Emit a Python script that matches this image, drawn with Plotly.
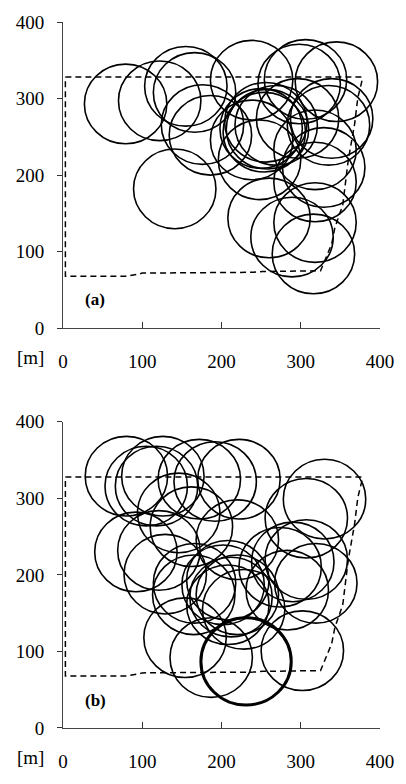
import plotly.graph_objects as go

# ---- data ----
tick_vals = [0, 100, 200, 300, 400]
tick_text = ["0", "100", "200", "300", "400"]

# boundary of the area (dashed)
bound_x = [3, 377, 377, 372, 368, 360, 353, 343, 339, 325, 252, 240, 100, 95, 79, 3, 3]
bound_y = [328, 328, 322, 301, 267, 220, 161, 131, 110, 75, 74, 73, 72, 70.5, 68, 68, 328]

radius = 52

# panel (a) circle centres
a_x = [79, 122, 155, 166, 176, 186, 141, 238, 306, 298, 345, 250, 254, 258, 238, 248,
       296, 339, 335, 318, 329, 318, 260, 289, 318, 316, 256, 269]
a_y = [293, 297, 316, 308, 266, 252, 182, 324, 325, 319, 322, 261, 256, 260, 246, 220,
       274, 274, 265, 233, 210, 191, 144, 119, 138, 97, 269, 265]

# panel (b) circle centres
b_x = [80, 105, 118, 126, 172, 192, 222, 146, 162, 92, 121, 129, 330, 307, 220, 166,
       208, 212, 228, 202, 165, 274, 307, 319, 283, 290, 154, 187, 302, 220, 208]
b_y = [329, 316, 316, 329, 325, 322, 325, 281, 263, 230, 232, 201, 299, 274, 246, 189,
       193, 171, 155, 187, 174, 210, 220, 189, 180, 217, 118, 92, 101, 174, 161]

# panel (b) highlighted (bold) circle
bold_x = 231
bold_y = 87
bold_r = 57

FONT = "Liberation Serif, Times New Roman, DejaVu Serif, serif"

fig = go.Figure()

for ax_i, (xr, yr) in enumerate([("x", "y"), ("x2", "y2")]):
    fig.add_trace(go.Scatter(
        x=bound_x, y=bound_y, mode="lines", xaxis=xr, yaxis=yr,
        line=dict(color="black", width=1.5, dash="6px,4px"),
        hoverinfo="skip", showlegend=False))

shapes = []
for cx, cy in zip(a_x, a_y):
    shapes.append(dict(type="circle", xref="x", yref="y",
                       x0=cx - radius, x1=cx + radius, y0=cy - radius, y1=cy + radius,
                       line=dict(color="black", width=1.6)))
for cx, cy in zip(b_x, b_y):
    shapes.append(dict(type="circle", xref="x2", yref="y2",
                       x0=cx - radius, x1=cx + radius, y0=cy - radius, y1=cy + radius,
                       line=dict(color="black", width=1.6)))
shapes.append(dict(type="circle", xref="x2", yref="y2",
                   x0=bold_x - bold_r, x1=bold_x + bold_r,
                   y0=bold_y - bold_r, y1=bold_y + bold_r,
                   line=dict(color="black", width=3)))

W, H = 406, 784
ml, mr, mt, mb = 63, 20, 19, 41
ph = H - mt - mb
top_dom = [(743 - 333) / ph, 1.0]
bot_dom = [0.0, (743 - 429) / ph]

xcommon = dict(range=[0, 400], tickvals=tick_vals, ticktext=tick_text,
               ticks="inside", ticklen=6, tickcolor="#333", showline=True,
               linecolor="#444", linewidth=1, showgrid=False, zeroline=False,
               ticklabelstandoff=16, tickfont=dict(family=FONT, size=19, color="black"),
               fixedrange=True)
ycommon = dict(range=[0, 400], tickvals=tick_vals, ticktext=tick_text,
               ticks="outside", ticklen=5, tickcolor="#333", showline=True,
               linecolor="#444", linewidth=1, showgrid=False, zeroline=False,
               ticklabelstandoff=9, tickfont=dict(family=FONT, size=19, color="black"),
               fixedrange=True)

fig.update_layout(
    width=W, height=H,
    margin=dict(l=ml, r=mr, t=mt, b=mb),
    paper_bgcolor="white", plot_bgcolor="white",
    showlegend=False,
    xaxis=dict(domain=[0, 1], anchor="y", **xcommon),
    yaxis=dict(domain=top_dom, anchor="x", **ycommon),
    xaxis2=dict(domain=[0, 1], anchor="y2", **xcommon),
    yaxis2=dict(domain=bot_dom, anchor="x2", **ycommon),
    shapes=shapes,
    annotations=[
        dict(text="<b>(a)</b>", x=25, y=37, xref="x", yref="y", xanchor="left",
             yanchor="middle", showarrow=False,
             font=dict(family=FONT, size=17, color="black")),
        dict(text="<b>(b)</b>", x=25, y=36, xref="x2", yref="y2", xanchor="left",
             yanchor="middle", showarrow=False,
             font=dict(family=FONT, size=17, color="black")),
        dict(text="[m]", x=(30 - ml) / (W - ml - mr), y=(743 - 363) / ph,
             xref="paper", yref="paper", xanchor="center", yanchor="middle",
             showarrow=False, font=dict(family=FONT, size=19, color="black")),
        dict(text="[m]", x=(30 - ml) / (W - ml - mr), y=(743 - 773) / ph,
             xref="paper", yref="paper", xanchor="center", yanchor="middle",
             showarrow=False, font=dict(family=FONT, size=19, color="black")),
    ],
)

fig.write_html("out.html",
               config={"displayModeBar": False, "staticPlot": True},
               post_script="document.body.style.margin='0px';document.body.style.overflow='hidden';")
